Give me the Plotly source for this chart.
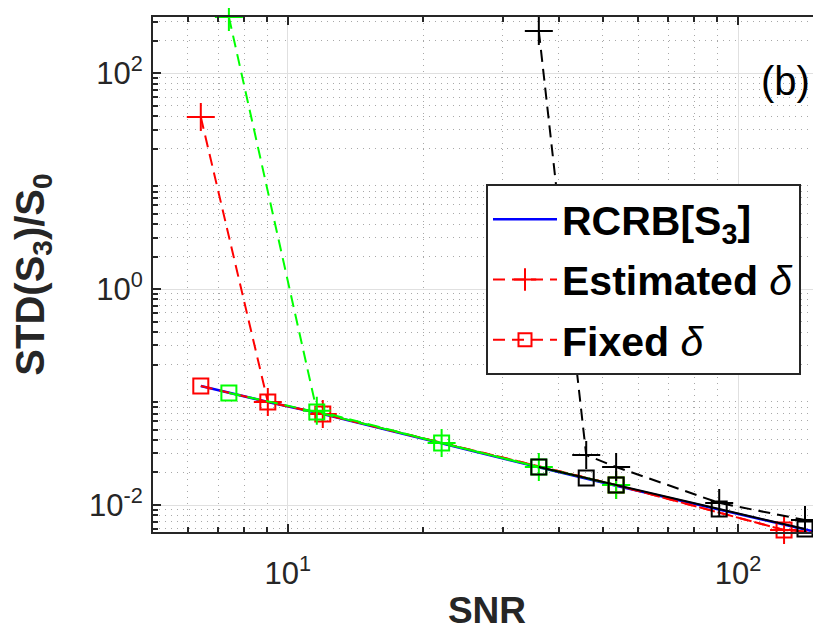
import numpy as np
import plotly.graph_objects as go

# values (log-log axes)
rcrb_snr = [6.41, 9.03, 11.96, 21.96, 36.1, 53.6, 90.8, 126.5, 152.8]
rcrb_std = [0.1265, 0.0900, 0.0697, 0.0372, 0.0223, 0.0151, 0.0091, 0.0066, 0.00548]

red_snr = [6.41, 9.03, 11.96, 53.6, 126.5, 145.3]
red_est = [39.2, 0.0900, 0.0697, 0.0153, 0.00587, 0.00562]
red_fix = [0.1265, 0.0900, 0.0697, 0.0153, 0.00587, 0.00562]

green_snr = [7.40, 11.6, 21.96, 36.1, 53.6]
green_est = [330, 0.0745, 0.0375, 0.0225, 0.0153]
green_fix = [0.1090, 0.0725, 0.0375, 0.0225, 0.0153]

black_snr = [36.1, 46.0, 53.6, 90.8, 140.8]
black_est = [245, 0.0290, 0.0225, 0.01045, 0.00726]
black_fix = [0.0225, 0.0178, 0.0153, 0.00919, 0.0060]

x_ticks = [10, 100]
x_ticktext = ["10<sup>1</sup>", "10<sup>2</sup>"]
y_ticks = [0.01, 1, 100]
y_ticktext = ["10<sup>-2</sup>", "10<sup>0</sup>", "10<sup>2</sup>"]

FONT = "Liberation Sans, Arial, sans-serif"
DASH = "12px,7px"

fig = go.Figure()

fig.add_trace(go.Scatter(x=rcrb_snr, y=rcrb_std, mode="lines", name="<b>RCRB[S<sub>3</sub>]</b>",
                         line=dict(color="#0000ff", width=2.5), legendgroup="a"))

def add_pair(snr, est, fix, color, legend, fix_dash):
    fig.add_trace(go.Scatter(x=snr, y=fix, mode="lines+markers", name="<b>Fixed</b> <i>δ</i>",
                             line=dict(color=color, width=2, dash=fix_dash),
                             marker=dict(symbol="square-open", size=15, color=color, line=dict(width=2, color=color)),
                             cliponaxis=False, showlegend=False, legendgroup="c"))
    fig.add_trace(go.Scatter(x=snr, y=est, mode="lines+markers", name="<b>Estimated</b> <i>δ</i>",
                             line=dict(color=color, width=2, dash=DASH),
                             marker=dict(symbol="cross-thin-open", size=20, color=color, line=dict(width=2, color=color)),
                             cliponaxis=False, showlegend=legend, legendgroup="b"))

add_pair(red_snr, red_est, red_fix, "#ff0000", True, DASH)
add_pair(green_snr, green_est, green_fix, "#00ff00", False, DASH)
add_pair(black_snr, black_est, black_fix, "#000000", False, "solid")

# legend entry for fixed delta (red dashed + square)
fig.add_trace(go.Scatter(x=[None], y=[None], mode="lines+markers", name="<b>Fixed</b> <i>δ</i>",
                         line=dict(color="#ff0000", width=2, dash=DASH),
                         marker=dict(symbol="square-open", size=13, color="#ff0000", line=dict(width=2, color="#ff0000")),
                         legendgroup="c"))

minor_x = [m * 10 ** d for d in range(0, 3) for m in range(2, 10)]
minor_y = [m * 10 ** d for d in range(-3, 3) for m in range(2, 10)]

fig.update_xaxes(type="log", range=[np.log10(5.02), np.log10(152.8)], automargin=False,
                 tickvals=x_ticks, ticktext=x_ticktext,
                 ticks="inside", ticklen=8, tickwidth=1.5, tickcolor="#262626",
                 showline=True, linecolor="#262626", linewidth=2, mirror="ticks",
                 showgrid=True, gridcolor="#e0e0e0", gridwidth=1.2,
                 minor=dict(tickvals=minor_x, ticks="inside", ticklen=5, tickcolor="#262626",
                            showgrid=True, gridcolor="#a8a8a8", griddash="1px,5px", gridwidth=1),
                 tickfont=dict(family=FONT, size=31, color="#262626"), ticklabelstandoff=13,
                 title=dict(text="<b>SNR</b>", font=dict(family=FONT, size=37, color="#262626"), standoff=14),
                 zeroline=False)
fig.update_yaxes(type="log", range=[-2.25, 2.519], automargin=False,
                 tickvals=y_ticks, ticktext=y_ticktext,
                 ticks="inside", ticklen=8, tickwidth=1.5, tickcolor="#262626",
                 showline=True, linecolor="#262626", linewidth=2, mirror=False,
                 showgrid=True, gridcolor="#e0e0e0", gridwidth=1.2,
                 minor=dict(tickvals=minor_y, ticks="inside", ticklen=5, tickcolor="#262626",
                            showgrid=True, gridcolor="#a8a8a8", griddash="1px,5px", gridwidth=1),
                 tickfont=dict(family=FONT, size=31, color="#262626"), ticklabelstandoff=2,
                 title=dict(text="<b>STD(S<sub>3</sub>)/S<sub>0</sub></b>", font=dict(family=FONT, size=40, color="#262626"), standoff=34),
                 zeroline=False)

fig.add_annotation(x=0.9476, y=0.8757, xref="paper", yref="paper", text="(b)", showarrow=False,
                   xanchor="center", yanchor="middle",
                   font=dict(family=FONT, size=40, color="#000000"))

# the page body adds an 8px offset; figure sized so it fits the window without scrolling
fig.update_layout(width=813, height=623, margin=dict(l=145, r=0, t=9, b=99),
                  plot_bgcolor="white", paper_bgcolor="white",
                  legend=dict(x=0.4985, y=0.6757, xanchor="left", yanchor="top",
                              bgcolor="white", bordercolor="#262626", borderwidth=2,
                              font=dict(family=FONT, size=41, color="#000000"),
                              itemwidth=64, tracegroupgap=4, traceorder="grouped"))

fig.write_html("out.html")
